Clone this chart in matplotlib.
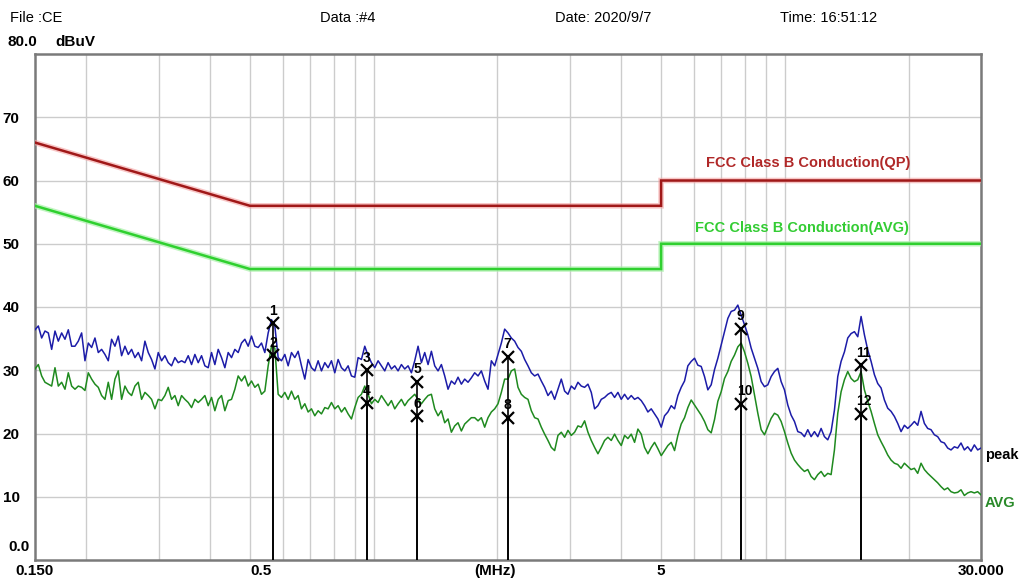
import numpy as np
import matplotlib
matplotlib.use("Agg")
import matplotlib.pyplot as plt
from matplotlib.ticker import LogLocator, NullFormatter, FixedLocator

# ---------------- data ----------------
peak_db = [
    36.4, 37.0, 35.1, 36.2, 35.9, 33.3, 36.2, 34.6, 35.9, 34.9, 36.4, 33.8, 33.8, 34.6, 35.9, 31.5,
    34.3, 33.6, 35.1, 32.8, 33.3, 32.5, 31.5, 34.9, 33.8, 35.4, 32.3, 33.8, 32.5, 33.3, 32.0, 32.8,
    31.5, 34.6, 32.8, 31.7, 30.2, 32.8, 31.5, 32.3, 31.2, 30.7, 32.0, 31.2, 31.5, 31.2, 32.3, 30.9,
    32.5, 31.2, 32.3, 30.7, 30.4, 32.8, 30.9, 33.3, 32.0, 30.4, 32.8, 32.0, 33.3, 32.8, 34.3, 34.9,
    33.8, 35.4,
    33.8, 33.6, 34.3, 32.8, 35.9, 38.0, 37.0, 32.0, 31.5, 32.5, 30.7, 32.8, 32.0, 33.0, 30.7, 28.6,
    31.7, 30.4, 29.9, 31.5, 29.9, 31.2, 30.4, 31.5, 29.6, 31.7, 30.4, 29.9, 30.7, 29.1, 28.9, 32.0,
    31.7, 33.8, 32.3, 31.2, 30.4, 31.5, 30.7, 29.9, 31.2, 30.2, 30.7, 29.9, 30.9, 30.2, 30.7, 29.6,
    31.5, 33.8, 31.2, 32.8, 30.9, 33.0, 30.7, 29.9, 30.9, 29.1, 27.0, 28.3, 27.8, 28.9, 27.8, 28.6,
    28.1,
    28.8, 29.6, 29.1, 29.9, 28.3, 27.0, 31.5, 30.7, 32.5, 34.3, 36.5, 35.9, 35.1, 34.6, 33.6, 33.0,
    31.7, 30.7, 29.6, 29.1, 29.4, 28.3, 27.3, 26.0, 26.7, 25.4, 27.0, 28.6, 26.7, 26.2, 27.5, 27.0,
    28.1, 27.5, 27.3, 27.8, 26.5, 23.9, 24.4, 25.4, 25.7, 26.2, 26.5, 25.7, 26.5, 25.4, 26.2, 25.4,
    26.0, 25.4, 25.7, 25.2, 24.4, 23.4, 23.9, 23.1, 22.3, 21.0, 22.8, 23.4, 24.4, 23.9, 26.0, 27.3,
    28.3, 30.7,
    31.4, 31.9, 30.8, 30.6, 29.0, 26.9, 27.7, 30.1, 31.9, 34.0, 36.1, 38.2, 39.3, 39.5, 40.3, 38.7,
    37.2, 35.6, 33.5, 31.9, 30.3, 28.2, 27.4, 27.7, 29.0, 29.8, 30.3, 28.2, 26.9, 24.5, 22.9, 21.9,
    20.3, 20.1, 19.5, 20.6, 19.5, 20.3, 19.5, 20.8, 19.5, 19.0, 20.3, 23.7, 29.0, 31.4, 32.9, 35.1,
    35.8, 36.1, 35.3, 38.5, 35.6, 33.2, 31.4, 29.3, 27.9, 27.2, 25.3, 24.0, 23.5, 22.7, 21.6, 20.3,
    21.3, 20.8, 21.3, 21.9, 21.3, 23.5, 21.6, 20.8, 20.6, 19.8, 19.5, 18.7, 18.5, 17.7, 17.4, 17.9,
    17.7, 18.5, 17.4, 17.9, 17.2, 18.2, 17.4, 17.7,
]

avg_db = [
    30.2, 30.9, 29.1, 28.1, 27.8, 27.5, 30.4, 27.5, 28.1, 27.0, 29.6, 27.5, 27.0, 27.5, 27.3, 26.8,
    29.6, 28.6, 27.8, 27.3, 26.0, 25.4, 28.1, 25.4, 28.6, 29.9, 25.4, 27.5, 26.5, 26.0, 27.5, 28.1,
    25.4, 26.5, 26.0, 25.4, 23.9, 25.4, 25.2, 26.0, 27.3, 25.4, 26.0, 24.4, 26.0, 25.4, 24.9, 24.1,
    25.4, 24.9, 25.4, 26.0, 24.4, 25.7, 23.6, 25.4, 26.0, 23.6, 25.2, 25.4, 27.0, 29.1, 28.3, 29.1,
    27.5, 28.3,
    27.3, 27.8, 26.2, 26.7, 30.7, 33.8, 33.5, 26.2, 25.7, 26.5, 25.4, 26.7, 25.4, 26.0, 23.9, 24.7,
    23.4, 23.9, 22.8, 23.6, 23.1, 24.1, 23.9, 24.9, 23.9, 24.4, 23.4, 24.1, 23.1, 22.3, 24.1, 25.7,
    26.2, 27.5, 26.2, 24.7, 25.4, 24.9, 26.0, 25.2, 24.4, 25.2, 23.9, 24.7, 25.4, 24.4, 25.2, 25.7,
    26.2, 25.4, 24.7, 25.4, 26.0, 26.2, 23.9, 22.8, 23.6, 21.7, 22.3, 20.2, 21.2, 21.7, 20.4, 21.5,
    22.0,
    22.5, 22.5, 22.0, 22.5, 21.0, 22.5, 23.4, 23.9, 24.7, 26.5, 28.6, 28.6, 29.9, 30.2, 27.3, 26.2,
    25.7, 25.4, 23.6, 22.5, 22.3, 21.0, 19.9, 18.9, 17.8, 17.3, 19.7, 20.2, 19.4, 20.5, 19.7, 20.2,
    21.2, 21.0, 22.0, 20.2, 18.9, 17.8, 16.8, 17.8, 18.9, 19.4, 18.9, 19.9, 18.9, 18.1, 19.7, 19.2,
    19.9, 18.6, 20.7, 19.9, 17.8, 16.8, 17.8, 18.6, 17.6, 16.5, 17.3, 18.1, 18.6, 17.3, 19.7, 21.5,
    22.5, 24.1,
    25.3, 24.5, 23.7, 22.9, 21.9, 20.6, 20.1, 22.2, 25.1, 26.6, 28.7, 29.8, 31.4, 32.4, 33.7, 34.3,
    32.9, 31.1, 29.0, 26.1, 23.2, 20.6, 19.8, 21.1, 22.4, 23.2, 22.9, 21.9, 20.3, 18.5, 16.9, 15.8,
    15.1, 14.5, 14.0, 14.3, 13.2, 12.7, 13.5, 14.0, 13.2, 13.7, 13.5, 17.4, 23.2, 26.6, 28.5, 29.8,
    28.7, 28.2, 28.5, 29.8, 26.9, 25.1, 23.5, 21.6, 19.8, 18.7, 17.7, 16.6, 15.8, 15.3, 15.1, 14.5,
    15.3, 14.8, 14.3, 14.5, 13.7, 15.3, 14.3, 13.7, 13.2, 12.7, 12.2, 11.6, 11.1, 11.4, 10.8, 10.6,
    10.7, 11.1, 10.2, 10.6, 10.8, 10.6, 10.8, 10.3,
]

freq_mhz = np.geomspace(0.15, 30.0, len(peak_db))

limit_freq = [0.15, 0.5, 5.0, 5.0, 30.0]
qp_limit = [66.0, 56.0, 56.0, 60.0, 60.0]
avg_limit = [56.0, 46.0, 46.0, 50.0, 50.0]

marker_no = ["1", "2", "3", "4", "5", "6", "7", "8", "9", "10", "11", "12"]
marker_freq = [0.570, 0.570, 0.965, 0.965, 1.276, 1.276, 2.118, 2.118, 7.826, 7.826, 15.29, 15.29]
marker_db = [37.4, 32.4, 30.0, 24.8, 28.2, 22.7, 32.1, 22.5, 36.6, 24.7, 30.8, 23.1]

ytick_vals = [10, 20, 30, 40, 50, 60, 70]
ytick_labels = ["10", "20", "30", "40", "50", "60", "70"]
xlabel_pos = [0.15, 0.5, 1.97, 5.0, 30.0]
xlabel_txt = ["0.150", "0.5", "(MHz)", "5", "30.000"]

# ---------------- figure ----------------
W, H = 1022, 583
fig = plt.figure(figsize=(W / 100, H / 100), dpi=100)
fig.patch.set_facecolor("white")
L, R, T, B = 35, 981, 54, 560
ax = fig.add_axes([L / W, 1 - B / H, (R - L) / W, (B - T) / H])
ax.set_xscale("log")
ax.set_xlim(0.15, 30.0)
ax.set_ylim(0, 80)

narrow = ["Liberation Sans Narrow", "Liberation Sans", "DejaVu Sans"]
sans = ["Liberation Sans", "DejaVu Sans"]

# grid
ax.xaxis.set_major_locator(LogLocator(base=10, subs=(1.0,)))
ax.xaxis.set_minor_locator(LogLocator(base=10, subs=np.arange(2, 10)))
ax.xaxis.set_major_formatter(NullFormatter())
ax.xaxis.set_minor_formatter(NullFormatter())
ax.yaxis.set_major_locator(FixedLocator(ytick_vals))
ax.set_yticklabels(ytick_labels, fontfamily=narrow, fontweight="bold", fontsize=11)
ax.tick_params(axis="both", which="both", length=0)
ax.tick_params(axis="y", pad=11)
ax.grid(True, which="both", color="#cccccc", linewidth=1.0)
ax.set_axisbelow(True)
for s in ax.spines.values():
    s.set_color("#7a7a7a")
    s.set_linewidth(1.8)

# limit lines with glow
ax.plot(limit_freq, qp_limit, color="#f4a0a0", linewidth=4.0, alpha=0.6, solid_joinstyle="miter", zorder=3)
ax.plot(limit_freq, qp_limit, color="#a01818", linewidth=1.8, solid_joinstyle="miter", zorder=4)
ax.plot(limit_freq, avg_limit, color="#a8f0a8", linewidth=4.0, alpha=0.7, solid_joinstyle="miter", zorder=3)
ax.plot(limit_freq, avg_limit, color="#2fd02f", linewidth=1.8, solid_joinstyle="miter", zorder=4)

# traces
ax.plot(freq_mhz, avg_db, color="#1f8a1f", linewidth=1.1, zorder=5)
ax.plot(freq_mhz, peak_db, color="#1c1ca8", linewidth=1.1, zorder=6)

# markers
for i, (f, v, n) in enumerate(zip(marker_freq, marker_db, marker_no)):
    ax.vlines(f, 0, v, color="black", linewidth=1.2, zorder=7)
    ax.plot([f], [v], marker="x", color="black", markersize=8, mew=1.6, zorder=8)
    ax.annotate(n, (f, v), xytext=(-3, 4), textcoords="offset points",
                ha="left", va="bottom", fontsize=10, fontweight="bold",
                fontfamily=narrow, color="black", zorder=9)

# limit labels
fig.text(706 / W, 1 - 163 / H, "FCC Class B Conduction(QP)",
         color="#b02828", fontsize=10.5, fontweight="bold", fontfamily=sans,
         ha="left", va="center")
fig.text(695 / W, 1 - 228 / H, "FCC Class B Conduction(AVG)",
         color="#33cc33", fontsize=10.5, fontweight="bold", fontfamily=sans,
         ha="left", va="center")

# trace labels
fig.text(985 / W, 1 - 455 / H, "peak", color="black", fontsize=10.5,
         fontweight="bold", fontfamily=sans, ha="left", va="center")
fig.text(985 / W, 1 - 503 / H, "AVG", color="#2a8a2a", fontsize=10.5,
         fontweight="bold", fontfamily=sans, ha="left", va="center")

# x labels
xt = ax.get_xaxis_transform()
aligns = ["center", "left", "center", "center", "center"]
for p, t, a in zip(xlabel_pos, xlabel_txt, aligns):
    ax.text(p, -0.022, t, transform=xt, ha=a, va="center", fontsize=11,
            fontweight="bold", fontfamily=narrow)

# y extra labels
fig.text(8 / W, 1 - 547 / H, "0.0", fontsize=11, fontweight="bold", fontfamily=narrow,
         ha="left", va="center")
fig.text(8 / W, 1 - 42 / H, "80.0", fontsize=11, fontweight="bold", fontfamily=narrow,
         ha="left", va="center")
fig.text(55 / W, 1 - 42 / H, "dBuV", fontsize=11, fontweight="bold", fontfamily=narrow,
         ha="left", va="center")

# header
hy = 1 - 18 / H
fig.text(10 / W, hy, "File :CE", fontsize=10.5, fontfamily=narrow, ha="left", va="center")
fig.text(320 / W, hy, "Data :#4", fontsize=10.5, fontfamily=narrow, ha="left", va="center")
fig.text(555 / W, hy, "Date: 2020/9/7", fontsize=10.5, fontfamily=narrow, ha="left", va="center")
fig.text(780 / W, hy, "Time: 16:51:12", fontsize=10.5, fontfamily=narrow, ha="left", va="center")

fig.savefig("out.png", dpi=100, facecolor="white")
